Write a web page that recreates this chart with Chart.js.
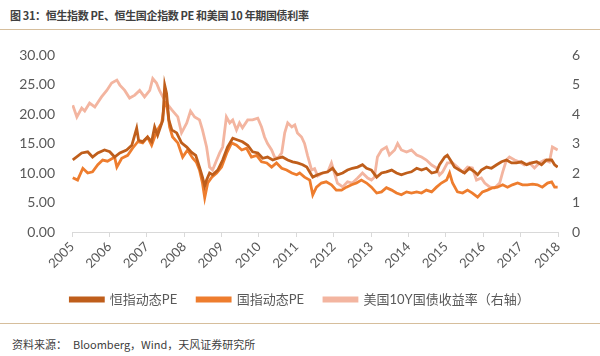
<!DOCTYPE html>
<html>
<head>
<meta charset="utf-8">
<script src="https://cdn.jsdelivr.net/npm/chart.js@4.4.1/dist/chart.umd.min.js"></script>
<style>
  html, body { margin: 0; padding: 0; background: #fff; }
  body { width: 600px; height: 356px; position: relative; overflow: hidden;
         font-family: Lato, "Noto Sans CJK SC", sans-serif; }
  #title { position: absolute; left: 10px; top: 7px; font-size: 11px; font-weight: bold; letter-spacing: -0.35px;
           color: #404040; font-family: "Noto Sans CJK SC", sans-serif; white-space: nowrap; }
  #topline { position: absolute; left: 0; top: 29px; width: 600px; height: 1px; background: #D6BE9C; }
  #botline { position: absolute; left: 0; top: 323px; width: 600px; height: 1px; background: #D6BE9C; }
  #src1 { position: absolute; left: 12px; top: 336px; font-size: 11px; color: #404040;
          font-family: "Noto Sans CJK SC", sans-serif; white-space: nowrap; }
  #src2 { position: absolute; left: 73px; top: 336px; font-size: 11px; color: #404040;
          font-family: "Noto Sans CJK SC", sans-serif; white-space: nowrap; }
  #wrap { position: absolute; left: 0; top: 35px; width: 600px; height: 300px; }
</style>
</head>
<body>
<div id="title">图 31：恒生指数 PE、恒生国企指数 PE 和美国 10 年期国债利率</div>
<div id="topline"></div>
<div id="wrap"><canvas id="c" width="600" height="300"></canvas></div>
<div id="botline"></div>
<div id="src1">资料来源：</div>
<div id="src2">Bloomberg，Wind，天风证券研究所</div>
<script>
// ---- data (x = fractional year as placed on the chart's date axis) ----
const seriesNames = ['恒指动态PE', '国指动态PE', '美国10Y国债收益率（右轴）'];
const yearTicks = [2005, 2006, 2007, 2008, 2009, 2010, 2011, 2012, 2013, 2014, 2015, 2016, 2017, 2018];

const hsiDates = [2005.02, 2005.26, 2005.42, 2005.55, 2005.69, 2005.87, 2006.01, 2006.14, 2006.28, 2006.46, 2006.60, 2006.73, 2006.78, 2006.89, 2007.02, 2007.13, 2007.21, 2007.29, 2007.43, 2007.48, 2007.53, 2007.59, 2007.67, 2007.80, 2007.93, 2008.07, 2008.20, 2008.31, 2008.41, 2008.49, 2008.55, 2008.60, 2008.68, 2008.76, 2008.90, 2009.03, 2009.16, 2009.30, 2009.43, 2009.56, 2009.70, 2009.83, 2009.97, 2010.10, 2010.23, 2010.37, 2010.50, 2010.63, 2010.77, 2010.90, 2011.03, 2011.17, 2011.28, 2011.44, 2011.57, 2011.70, 2011.84, 2011.97, 2012.10, 2012.24, 2012.37, 2012.50, 2012.64, 2012.77, 2012.88, 2013.01, 2013.15, 2013.28, 2013.41, 2013.55, 2013.68, 2013.81, 2013.95, 2014.08, 2014.22, 2014.35, 2014.48, 2014.62, 2014.75, 2014.83, 2014.97, 2015.04, 2015.15, 2015.23, 2015.36, 2015.50, 2015.63, 2015.77, 2015.85, 2015.95, 2016.09, 2016.22, 2016.36, 2016.49, 2016.62, 2016.76, 2016.89, 2017.02, 2017.16, 2017.29, 2017.43, 2017.56, 2017.69, 2017.83, 2017.91, 2017.99];
const hsiPE = [12.2, 13.4, 13.6, 12.7, 13.4, 13.9, 13.6, 12.7, 13.4, 13.9, 14.7, 17.6, 15.6, 15.3, 16.1, 15.3, 17.8, 16.4, 19.0, 24.9, 23.5, 19.0, 17.3, 16.8, 15.1, 14.4, 13.5, 13.0, 11.0, 9.3, 7.8, 8.8, 10.0, 9.7, 10.5, 12.2, 14.4, 15.9, 15.6, 15.3, 14.7, 13.6, 13.4, 12.5, 12.7, 12.2, 12.5, 12.7, 12.2, 11.9, 11.7, 11.4, 11.0, 9.3, 9.7, 10.0, 10.2, 10.8, 9.7, 10.0, 10.5, 10.8, 11.0, 11.4, 10.8, 10.5, 9.3, 10.0, 10.2, 10.5, 10.0, 9.7, 10.0, 10.2, 10.8, 10.5, 10.8, 10.0, 10.2, 11.4, 12.7, 13.0, 11.9, 11.0, 10.5, 10.0, 10.8, 10.2, 9.7, 10.5, 11.0, 10.8, 11.4, 11.9, 12.2, 11.7, 11.7, 11.9, 11.4, 11.7, 11.9, 11.4, 12.2, 12.2, 11.4, 11.0];

const hsceiDates = [2005.02, 2005.15, 2005.29, 2005.42, 2005.55, 2005.69, 2005.82, 2005.95, 2006.14, 2006.20, 2006.33, 2006.49, 2006.62, 2006.76, 2006.89, 2007.02, 2007.13, 2007.26, 2007.40, 2007.48, 2007.53, 2007.61, 2007.69, 2007.83, 2007.96, 2008.09, 2008.23, 2008.33, 2008.41, 2008.49, 2008.55, 2008.63, 2008.74, 2008.87, 2009.00, 2009.14, 2009.27, 2009.40, 2009.54, 2009.67, 2009.80, 2009.94, 2010.07, 2010.21, 2010.34, 2010.47, 2010.61, 2010.74, 2010.88, 2011.01, 2011.09, 2011.22, 2011.36, 2011.44, 2011.54, 2011.67, 2011.80, 2011.94, 2012.07, 2012.21, 2012.34, 2012.48, 2012.61, 2012.74, 2012.88, 2013.01, 2013.15, 2013.28, 2013.41, 2013.55, 2013.68, 2013.81, 2013.95, 2014.08, 2014.22, 2014.35, 2014.48, 2014.62, 2014.75, 2014.88, 2015.02, 2015.10, 2015.18, 2015.31, 2015.45, 2015.58, 2015.71, 2015.85, 2015.98, 2016.11, 2016.25, 2016.38, 2016.52, 2016.65, 2016.78, 2016.92, 2017.05, 2017.18, 2017.32, 2017.45, 2017.58, 2017.72, 2017.83, 2017.91, 2017.99];
const hsceiPE = [9.2, 8.8, 10.8, 10.0, 10.2, 11.4, 12.2, 12.0, 12.7, 11.0, 12.5, 13.0, 14.2, 15.3, 15.1, 16.1, 14.7, 17.0, 18.5, 21.9, 22.0, 17.8, 16.1, 15.1, 12.7, 13.9, 12.5, 11.8, 10.5, 8.3, 5.8, 8.3, 9.3, 10.0, 11.0, 13.4, 15.1, 14.7, 13.9, 14.2, 12.7, 13.0, 11.9, 11.7, 11.0, 11.7, 10.8, 10.5, 10.0, 9.7, 10.0, 9.3, 8.8, 6.3, 7.6, 8.3, 8.5, 8.0, 7.1, 7.1, 7.6, 8.0, 8.3, 8.8, 8.3, 7.6, 6.6, 6.8, 7.5, 7.1, 6.6, 6.3, 6.8, 6.6, 6.8, 6.6, 7.1, 6.8, 7.6, 8.3, 8.8, 10.0, 8.3, 6.8, 6.6, 7.1, 6.6, 5.9, 6.8, 7.1, 7.5, 7.6, 8.0, 7.6, 8.0, 8.3, 8.0, 8.0, 8.1, 8.0, 7.6, 8.3, 8.5, 7.6, 7.6];

const ustDates = [2005.02, 2005.13, 2005.26, 2005.34, 2005.47, 2005.61, 2005.79, 2005.93, 2006.06, 2006.20, 2006.28, 2006.41, 2006.54, 2006.68, 2006.81, 2006.94, 2007.08, 2007.16, 2007.26, 2007.34, 2007.43, 2007.53, 2007.67, 2007.83, 2007.93, 2008.07, 2008.17, 2008.28, 2008.41, 2008.49, 2008.60, 2008.68, 2008.76, 2008.87, 2008.95, 2009.03, 2009.13, 2009.22, 2009.30, 2009.40, 2009.48, 2009.56, 2009.70, 2009.83, 2009.97, 2010.07, 2010.15, 2010.23, 2010.34, 2010.42, 2010.50, 2010.61, 2010.69, 2010.77, 2010.88, 2010.96, 2011.03, 2011.14, 2011.22, 2011.30, 2011.41, 2011.49, 2011.57, 2011.70, 2011.84, 2011.94, 2012.02, 2012.10, 2012.24, 2012.37, 2012.50, 2012.64, 2012.77, 2012.91, 2013.01, 2013.09, 2013.17, 2013.28, 2013.41, 2013.49, 2013.63, 2013.71, 2013.81, 2013.95, 2014.08, 2014.22, 2014.35, 2014.48, 2014.62, 2014.75, 2014.83, 2014.91, 2015.04, 2015.18, 2015.31, 2015.45, 2015.58, 2015.71, 2015.82, 2015.95, 2016.04, 2016.17, 2016.30, 2016.44, 2016.52, 2016.62, 2016.70, 2016.84, 2016.97, 2017.10, 2017.24, 2017.37, 2017.50, 2017.64, 2017.77, 2017.85, 2017.99];
const ustYield = [4.3, 3.9, 4.2, 4.1, 4.37, 4.24, 4.58, 4.8, 5.05, 5.15, 4.98, 4.8, 4.54, 4.64, 4.8, 4.58, 4.8, 5.2, 5.05, 4.8, 4.58, 4.37, 4.14, 3.9, 3.36, 3.7, 4.1, 3.9, 3.8, 3.46, 2.88, 2.2, 2.1, 2.44, 2.68, 2.88, 3.9, 3.7, 3.8, 3.46, 3.7, 3.53, 3.8, 3.8, 3.86, 3.56, 3.22, 3.0, 2.78, 2.54, 2.5, 2.68, 3.36, 3.7, 3.56, 3.63, 3.36, 3.22, 3.0, 2.6, 2.1, 2.15, 1.9, 2.0, 2.03, 2.34, 2.0, 1.66, 1.53, 1.7, 1.66, 1.83, 2.0, 1.83, 1.76, 1.86, 2.54, 2.78, 2.88, 2.61, 2.78, 3.0, 2.78, 2.71, 2.78, 2.61, 2.54, 2.44, 2.27, 2.17, 1.93, 2.03, 2.34, 2.34, 2.2, 2.03, 2.2, 2.17, 1.76, 1.83, 1.66, 1.53, 1.49, 1.66, 2.03, 2.44, 2.54, 2.44, 2.37, 2.27, 2.34, 2.17, 2.34, 2.44, 2.37, 2.88, 2.78];

const leftTicks = [0, 5, 10, 15, 20, 25, 30];
const rightTicks = [0, 1, 2, 3, 4, 5, 6];

// ---- chart ----
const pts = (xs, ys) => xs.map((x, i) => ({ x: x, y: ys[i] }));
const FONT = 'Lato, "Noto Sans CJK SC", sans-serif';
const TICK = '#595959';

new Chart(document.getElementById('c'), {
  type: 'line',
  data: {
    datasets: [
      { label: seriesNames[0], data: pts(hsiDates, hsiPE), yAxisID: 'y',
        borderColor: '#BF5E1B', backgroundColor: '#BF5E1B', borderWidth: 2.8 },
      { label: seriesNames[1], data: pts(hsceiDates, hsceiPE), yAxisID: 'y',
        borderColor: '#EE7D2E', backgroundColor: '#EE7D2E', borderWidth: 2.8 },
      { label: seriesNames[2], data: pts(ustDates, ustYield), yAxisID: 'y1',
        borderColor: '#F3B5A0', backgroundColor: '#EDBAAA', borderWidth: 2.8 }
    ]
  },
  options: {
    responsive: false,
    animation: false,
    elements: { point: { radius: 0 }, line: { tension: 0 } },
    layout: { padding: { top: 20, bottom: 19, left: 0, right: 0 } },
    plugins: {
      tooltip: { enabled: false },
      legend: {
        position: 'bottom',
        labels: {
          boxWidth: 33, boxHeight: 3, padding: 20, color: TICK,
          font: { family: FONT, size: 13 }
        }
      }
    },
    scales: {
      x: {
        type: 'linear', min: yearTicks[0], max: yearTicks[yearTicks.length - 1],
        afterBuildTicks: (s) => { s.ticks = yearTicks.map(v => ({ value: v })); },
        afterFit: (s) => { s.height = 41; },
        grid: { display: true, drawOnChartArea: false, drawTicks: true, tickLength: 5, color: '#D9D9D9' },
        border: { display: true, color: '#D9D9D9' },
        ticks: { color: TICK, font: { family: FONT, size: 13 }, minRotation: 45, maxRotation: 45,
                 autoSkip: false, padding: 2, callback: (v) => String(v) }
      },
      y: {
        position: 'left', min: 0, max: 30,
        afterBuildTicks: (s) => { s.ticks = leftTicks.map(v => ({ value: v })); },
        afterFit: (s) => { s.width = 72; },
        grid: { display: false },
        border: { display: false },
        ticks: { color: TICK, font: { family: FONT, size: 14 }, padding: 9,
                 callback: (v) => Number(v).toFixed(2) }
      },
      y1: {
        position: 'right', min: 0, max: 6,
        afterBuildTicks: (s) => { s.ticks = rightTicks.map(v => ({ value: v })); },
        afterFit: (s) => { s.width = 42; },
        grid: { display: false },
        border: { display: false },
        ticks: { color: TICK, font: { family: FONT, size: 14 }, padding: 6,
                 callback: (v) => String(v) }
      }
    }
  }
});
</script>
</body>
</html>
